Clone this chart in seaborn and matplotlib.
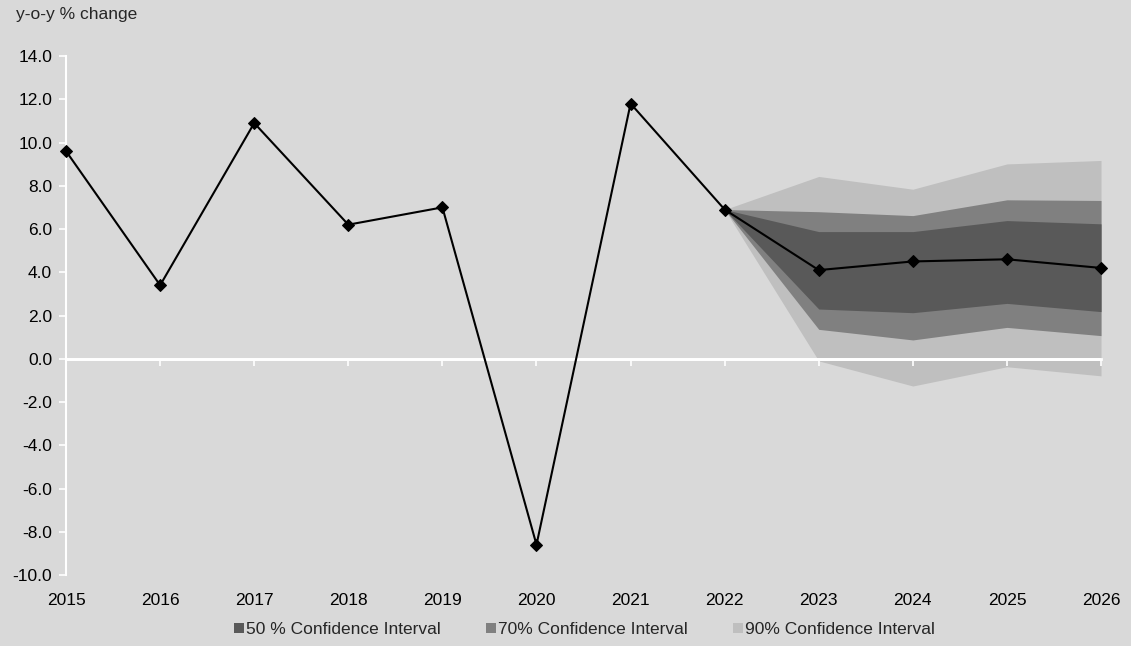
import matplotlib
matplotlib.use("Agg")
import matplotlib.pyplot as plt
import seaborn as sns
import pandas as pd
from matplotlib.patches import Patch

years = [2015, 2016, 2017, 2018, 2019, 2020, 2021, 2022, 2023, 2024, 2025, 2026]
growth = [9.6, 3.4, 10.9, 6.2, 7.0, -8.6, 11.8, 6.9, 4.1, 4.5, 4.6, 4.2]

fan_years = [2022, 2023, 2024, 2025, 2026]
ci50_low = [6.9, 2.30, 2.13, 2.56, 2.18]
ci50_high = [6.9, 5.88, 5.88, 6.39, 6.24]
ci70_low = [6.9, 1.36, 0.87, 1.45, 1.07]
ci70_high = [6.9, 6.80, 6.62, 7.35, 7.32]
ci90_low = [6.9, -0.10, -1.26, -0.37, -0.79]
ci90_high = [6.9, 8.43, 7.84, 9.01, 9.17]

legend_labels = ["50 % Confidence Interval", "70% Confidence Interval", "90% Confidence Interval"]
y_ticks = [-10, -8, -6, -4, -2, 0, 2, 4, 6, 8, 10, 12, 14]

bg = "#d9d9d9"
c50, c70, c90 = "#595959", "#808080", "#bfbfbf"
fs = 12.5

sns.set_theme(style="white")
plt.rcParams["font.family"] = ["Liberation Sans", "DejaVu Sans"]

fig = plt.figure(figsize=(11.31, 6.46), dpi=100, facecolor=bg)
ax = fig.add_axes([0.0584, 0.1099, 0.9151, 0.8034])
ax.set_facecolor(bg)

ax.fill_between(fan_years, ci90_low, ci90_high, color=c90, linewidth=0, zorder=1)
ax.fill_between(fan_years, ci70_low, ci70_high, color=c70, linewidth=0, zorder=2)
ax.fill_between(fan_years, ci50_low, ci50_high, color=c50, linewidth=0, zorder=3)

df = pd.DataFrame({"year": years, "growth": growth})
sns.lineplot(data=df, x="year", y="growth", ax=ax, color="black", linewidth=1.5,
             marker="D", markersize=6.5, markeredgecolor="black", zorder=5, clip_on=False)

ymin, ymax = -10, 14
ax.set_ylim(ymin, ymax)
ax.set_xlim(2015, 2026)
ax.set_yticks(y_ticks)
ax.set_yticklabels([f"{v:.1f}" for v in y_ticks], fontsize=fs, color="black")
ax.set_xticks(years)
ax.set_xticklabels([str(y) for y in years], fontsize=fs, color="black")
ax.set_xlabel("")
ax.set_ylabel("")

for s in ["top", "right", "bottom"]:
    ax.spines[s].set_visible(False)
ax.spines["left"].set_color("white")
ax.spines["left"].set_linewidth(1.5)
ax.tick_params(axis="y", which="both", left=True, length=5, width=1.2, color="white", pad=5)
ax.tick_params(axis="x", which="both", bottom=False, length=0, pad=13)

# zero axis with tick marks
zero_loc = (0 - ymin) / (ymax - ymin)
sec = ax.secondary_xaxis(zero_loc)
sec.set_xticks(years)
sec.tick_params(axis="x", direction="out", length=5, width=1.2, color="white", labelbottom=False, labeltop=False)
sec.spines["bottom"].set_color("white")
sec.spines["bottom"].set_linewidth(2)
sec.spines["top"].set_visible(False)
sec.set_xticklabels([])
sec.set_zorder(4)
ax.axhline(0, color="white", linewidth=2, zorder=4)

fig.text(0.014, 0.978, "y-o-y % change", fontsize=fs, ha="left", va="center")

handles = [Patch(facecolor=c, edgecolor="none") for c in (c50, c70, c90)]
fig.legend(handles, legend_labels, loc="center", bbox_to_anchor=(0.517, 0.025), ncol=3,
           frameon=False, fontsize=fs, handlelength=0.55, handleheight=0.55,
           handletextpad=0.15, columnspacing=2.6)

fig.savefig("out.png", dpi=100, facecolor=bg)
